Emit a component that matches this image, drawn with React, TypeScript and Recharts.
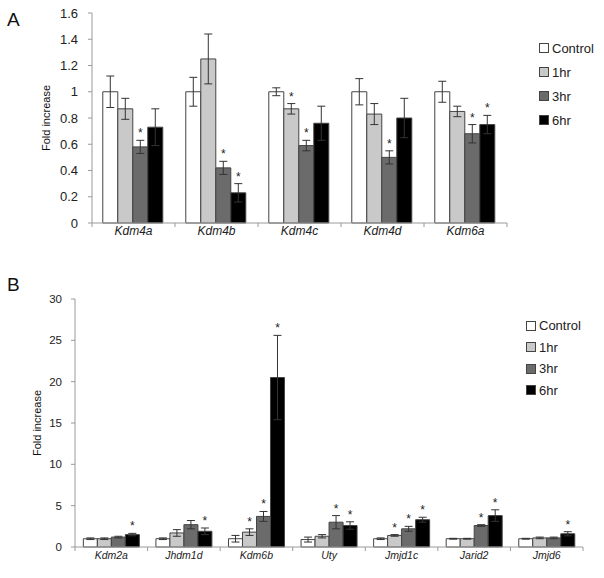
import React from 'react';
import { BarChart, Bar, XAxis, YAxis, ErrorBar, LabelList, Legend } from 'recharts';

// ---------- Panel A data ----------
const categoriesA = ['Kdm4a', 'Kdm4b', 'Kdm4c', 'Kdm4d', 'Kdm6a'];
const controlA = [1.0, 1.0, 1.0, 1.0, 1.0];
const hr1A = [0.87, 1.25, 0.87, 0.83, 0.85];
const hr3A = [0.58, 0.42, 0.59, 0.5, 0.68];
const hr6A = [0.73, 0.23, 0.76, 0.8, 0.75];
const controlErrA = [0.12, 0.11, 0.03, 0.1, 0.08];
const hr1ErrA = [0.08, 0.19, 0.04, 0.08, 0.04];
const hr3ErrA = [0.05, 0.05, 0.04, 0.05, 0.07];
const hr6ErrA = [0.14, 0.07, 0.13, 0.15, 0.07];
const controlStarA = [false, false, false, false, false];
const hr1StarA = [false, false, true, false, false];
const hr3StarA = [true, true, true, true, true];
const hr6StarA = [false, true, false, false, true];
const ticksA = [0, 0.2, 0.4, 0.6, 0.8, 1, 1.2, 1.4, 1.6];

// ---------- Panel B data ----------
const categoriesB = ['Kdm2a', 'Jhdm1d', 'Kdm6b', 'Uty', 'Jmjd1c', 'Jarid2', 'Jmjd6'];
const controlB = [1.0, 1.0, 1.0, 0.9, 1.0, 1.0, 1.0];
const hr1B = [1.0, 1.7, 1.8, 1.3, 1.4, 1.0, 1.1];
const hr3B = [1.2, 2.7, 3.7, 3.0, 2.2, 2.6, 1.1];
const hr6B = [1.5, 1.9, 20.5, 2.6, 3.3, 3.8, 1.6];
const controlErrB = [0.1, 0.1, 0.4, 0.3, 0.1, 0.05, 0.05];
const hr1ErrB = [0.1, 0.4, 0.4, 0.2, 0.1, 0.05, 0.1];
const hr3ErrB = [0.1, 0.5, 0.6, 0.8, 0.3, 0.1, 0.1];
const hr6ErrB = [0.15, 0.4, 5.1, 0.45, 0.3, 0.7, 0.25];
const controlStarB = [false, false, false, false, false, false, false];
const hr1StarB = [false, false, true, false, true, false, false];
const hr3StarB = [false, false, true, true, true, true, false];
const hr6StarB = [true, true, true, true, true, true, true];
const ticksB = [0, 5, 10, 15, 20, 25, 30];

const seriesNames = ['Control', '1hr', '3hr', '6hr'];
const seriesKeys = ['control', 'hr1', 'hr3', 'hr6'];
const seriesFills = ['#ffffff', '#c9c9c9', '#6b6b6b', '#000000'];

const FONT = '"Liberation Sans", Arial, sans-serif';
const AXIS = '#9a9a9a';
const TEXT = '#222222';

const buildData = (cats: string[], vals: number[][], errs: number[][]) =>
  cats.map((name, i) => {
    const row: any = { name };
    seriesKeys.forEach((k, s) => {
      row[k] = vals[s][i];
      row[k + 'Err'] = errs[s][i];
    });
    return row;
  });

const dataA = buildData(categoriesA, [controlA, hr1A, hr3A, hr6A], [controlErrA, hr1ErrA, hr3ErrA, hr6ErrA]);
const dataB = buildData(categoriesB, [controlB, hr1B, hr3B, hr6B], [controlErrB, hr1ErrB, hr3ErrB, hr6ErrB]);
const valsA = [controlA, hr1A, hr3A, hr6A];
const errsA = [controlErrA, hr1ErrA, hr3ErrA, hr6ErrA];
const starsA = [controlStarA, hr1StarA, hr3StarA, hr6StarA];
const valsB = [controlB, hr1B, hr3B, hr6B];
const errsB = [controlErrB, hr1ErrB, hr3ErrB, hr6ErrB];
const starsB = [controlStarB, hr1StarB, hr3StarB, hr6StarB];

const makeStar = (vals: number[], errs: number[], stars: boolean[]) => (props: any) => {
  const vb = props.viewBox || props;
  const x = Number(vb.x ?? props.x);
  const y = Number(vb.y ?? props.y);
  const w = Number(vb.width ?? props.width);
  const h = Number(vb.height ?? props.height);
  const i = props.index;
  if (i == null || !stars[i]) return null;
  const v = vals[i];
  const ppu = v ? Math.abs(h) / v : 0;
  const top = Math.min(y, y + h) - errs[i] * ppu;
  return (
    <text x={x + w / 2} y={top - 3} textAnchor="middle" fontSize={12} fill="#222" fontFamily={FONT}>
      *
    </text>
  );
};

const makeCatTick = (fontSize: number, textDy: number, fallbackWidth: number) => (props: any) => {
  const { x, y, payload, index, visibleTicksCount } = props;
  const axisW = Number(props.width) || fallbackWidth;
  const bw = axisW / (visibleTicksCount || 1);
  const left = x - bw / 2;
  const right = x + bw / 2;
  return (
    <g>
      <line x1={left} y1={y} x2={left} y2={y + 4} stroke={AXIS} />
      {index === visibleTicksCount - 1 && <line x1={right} y1={y} x2={right} y2={y + 4} stroke={AXIS} />}
      <text x={x} y={y + textDy} textAnchor="middle" fontSize={fontSize} fontStyle="italic" fill={TEXT} fontFamily={FONT}>
        {payload.value}
      </text>
    </g>
  );
};

const makeLegend = (rowGap: number) => () => (
  <div style={{ fontFamily: FONT, fontSize: 13, color: TEXT }}>
    {seriesNames.map((n, s) => (
      <div key={n} style={{ display: 'flex', alignItems: 'center', height: rowGap }}>
        <span
          style={{
            display: 'inline-block',
            width: 8,
            height: 8,
            background: seriesFills[s],
            border: '1px solid #444',
            marginRight: 3,
          }}
        />
        <span>{n}</span>
      </div>
    ))}
  </div>
);

const renderBars = (vals: number[][], errs: number[][], stars: boolean[][]) =>
  seriesKeys.map((k, s) => (
    <Bar
      key={k}
      dataKey={k}
      name={seriesNames[s]}
      fill={seriesFills[s]}
      stroke="#444"
      strokeWidth={1}
      isAnimationActive={false}
    >
      <ErrorBar dataKey={k + 'Err'} width={4} stroke="#333" strokeWidth={1} direction="y" />
      <LabelList dataKey={k} content={makeStar(vals[s], errs[s], stars[s])} />
    </Bar>
  ));

export default function App() {
  return (
    <div style={{ position: 'absolute', left: 0, top: 0, width: 604, height: 578, background: '#fff', fontFamily: FONT }}>
      <div style={{ position: 'absolute', left: 7, top: 9, fontSize: 19, color: '#111' }}>A</div>
      <div style={{ position: 'absolute', left: 7, top: 274, fontSize: 19, color: '#111' }}>B</div>

      <div style={{ position: 'absolute', left: 0, top: 0 }}>
        <BarChart
          width={604}
          height={265}
          data={dataA}
          margin={{ top: 13, right: 97, bottom: 12, left: 0 }}
          barCategoryGap="13%"
          barGap={0}
        >
          <XAxis
            dataKey="name"
            height={30}
            stroke={AXIS}
            tickLine={false}
            tickSize={0}
            tickMargin={0}
            interval={0}
            tick={makeCatTick(12, 12, 415)}
          />
          <YAxis
            width={92}
            domain={[0, 1.6]}
            ticks={ticksA}
            stroke={AXIS}
            tickSize={4}
            tickMargin={10}
            tick={{ fill: TEXT, fontSize: 13, fontFamily: FONT }}
            label={{ value: 'Fold increase', angle: -90, position: 'center', fill: '#111', fontSize: 11, fontFamily: FONT }}
          />
          {renderBars(valsA, errsA, starsA)}
          <Legend
            layout="horizontal"
            verticalAlign="middle"
            align="center"
            content={makeLegend(24)}
            wrapperStyle={{ left: 539, top: 36, width: 70, height: 100 }}
          />
        </BarChart>
      </div>

      <div style={{ position: 'absolute', left: 0, top: 265 }}>
        <BarChart
          width={604}
          height={313}
          data={dataB}
          margin={{ top: 34, right: 21, bottom: 1, left: 0 }}
          barCategoryGap="11.5%"
          barGap={0}
        >
          <XAxis
            dataKey="name"
            height={30}
            stroke={AXIS}
            tickLine={false}
            tickSize={0}
            tickMargin={0}
            interval={0}
            tick={makeCatTick(10.5, 12, 508)}
          />
          <YAxis
            width={75}
            domain={[0, 30]}
            ticks={ticksB}
            stroke={AXIS}
            tickSize={4}
            tickMargin={9}
            tick={{ fill: TEXT, fontSize: 11.5, fontFamily: FONT }}
            label={{ value: 'Fold increase', angle: -90, position: 'center', fill: '#111', fontSize: 11, fontFamily: FONT }}
          />
          {renderBars(valsB, errsB, starsB)}
          <Legend
            layout="horizontal"
            verticalAlign="middle"
            align="center"
            content={makeLegend(21.5)}
            wrapperStyle={{ left: 526, top: 50, width: 78, height: 90 }}
          />
        </BarChart>
      </div>
    </div>
  );
}
